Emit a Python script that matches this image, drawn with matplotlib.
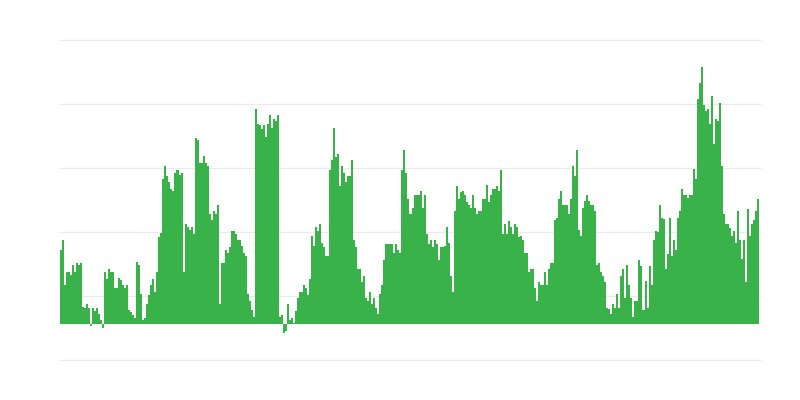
import numpy as np
import matplotlib
matplotlib.use('Agg')
import matplotlib.pyplot as plt

# daily values (units = height above the zero line)
seg1 = [74, 84, 39, 52, 52, 49, 59, 52, 61, 59, 61, 17, 16, 20, 16, -2, 16, 13, 16, 10,
        4, -4, 52, 45, 55, 52, 52, 36, 36, 46, 44, 39, 36, 39, 14, 12, 9, 6, 62, 59,
        30, 4, 6, 20, 29, 39, 45, 32, 52]
seg2 = [87, 91, 145, 158, 148, 142, 135, 133, 151, 154, 149, 151, 52, 100, 97, 94, 97, 90, 186,
        184, 161, 161, 168, 161, 158, 110, 104, 113, 110, 119, 20, 61, 61, 74, 71, 77, 93, 93, 90,
        84, 84, 78, 71, 68, 30, 23, 14, 7, 215, 200]
seg3 = [199, 195, 199, 187, 200, 209, 196, 205, 203, 209, 7, 9, -9, -7, 20, 4, 6, 1, 13, 26,
        32, 32, 39, 36, 29, 45, 88, 78, 97, 93, 100, 81, 77, 68, 68, 154, 164, 196, 167, 170,
        138, 158, 151, 142, 148, 148, 164, 84, 77, 55]
seg4 = [55, 42, 48, 26, 23, 32, 20, 26, 16, 10, 30, 39, 64, 80, 80, 80, 80, 71, 80, 74,
        71, 154, 174, 151, 125, 110, 116, 129, 129, 129, 133, 116, 129, 90, 80, 84, 77, 84, 80, 64,
        77, 77, 78, 97, 81, 48, 32, 113, 138]
seg5 = [125, 132, 133, 129, 122, 119, 116, 129, 116, 110, 113, 113, 125, 125, 139, 122, 129, 135, 135, 138,
        133, 154, 90, 100, 90, 103, 97, 90, 100, 97, 87, 88, 84, 71, 71, 52, 55, 55, 36, 23,
        42, 39, 39, 52, 39, 55, 61, 61, 104, 106]
seg6 = [125, 133, 119, 119, 119, 110, 125, 158, 148, 174, 94, 88, 116, 123, 129, 123, 119, 119, 113, 59,
        61, 52, 48, 42, 16, 15, 10, 20, 16, 30, 16, 48, 55, 26, 59, 39, 26, 7, 23, 23,
        64, 58, 14, 43, 16, 58, 39, 84, 93, 92]
seg7 = [119, 106, 105, 55, 70, 106, 68, 84, 74, 106, 113, 135, 129, 129, 126, 129, 129, 155, 145, 225,
        241, 257, 219, 213, 215, 200, 228, 180, 205, 203, 221, 158, 110, 100, 100, 96, 88, 93, 81, 113,
        84, 65, 84, 42, 115, 88, 100, 104, 113, 125]

values = seg1 + seg2 + seg3 + seg4 + seg5 + seg6 + seg7
grid_levels = [-36.5, 27.5, 91.5, 155.5, 219.5, 283.5]

fig = plt.figure(figsize=(8, 4), dpi=100)
ax = fig.add_axes([60 / 800, 40 / 400, 700 / 800, 320 / 400])

x = np.arange(len(values))
ax.bar(x, values, width=1.0, color='#39b24a', linewidth=0)

# data stop about a pixel short of the right end of the grid
ax.set_xlim(-0.5, len(values) - 0.5 + 0.5)
ax.set_ylim(grid_levels[0], grid_levels[-1])
ax.set_yticks(grid_levels)
ax.set_xticks([])
ax.yaxis.grid(True, color='#ebebeb', linewidth=1)
for gl in ax.get_ygridlines():
    gl.set_clip_on(False)
ax.set_axisbelow(True)
ax.tick_params(left=False, labelleft=False)
for s in ax.spines.values():
    s.set_visible(False)

fig.savefig('out.png', dpi=100)
